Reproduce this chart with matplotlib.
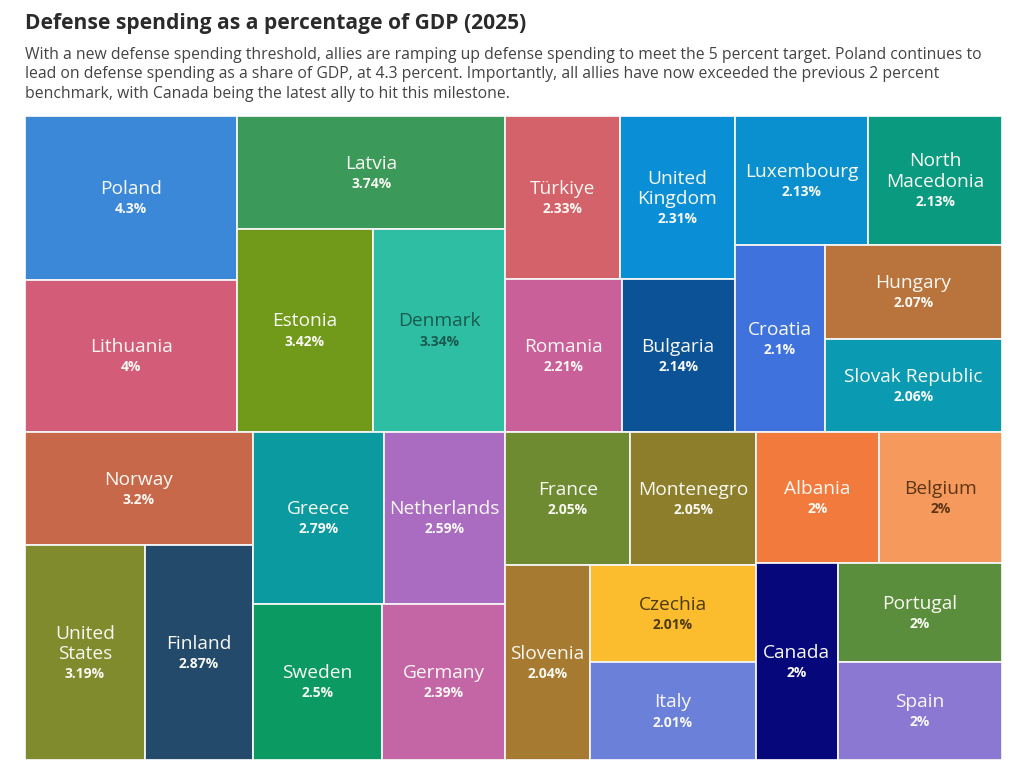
import matplotlib
matplotlib.use("Agg")
import matplotlib.pyplot as plt
from matplotlib.patches import Rectangle

# ---------------- data ----------------
countries = ["Poland", "Lithuania", "Latvia", "Estonia", "Denmark", "Norway",
             "United States", "Finland", "Greece", "Netherlands", "Sweden",
             "Germany", "Türkiye", "United Kingdom", "Romania", "Bulgaria",
             "Luxembourg", "North Macedonia", "Croatia", "Hungary",
             "Slovak Republic", "France", "Montenegro", "Slovenia", "Czechia",
             "Italy", "Albania", "Belgium", "Canada", "Portugal", "Spain"]
values = [4.3, 4.0, 3.74, 3.42, 3.34, 3.2, 3.19, 2.87, 2.79, 2.59, 2.5, 2.39,
          2.33, 2.31, 2.21, 2.14, 2.13, 2.13, 2.1, 2.07, 2.06, 2.05, 2.05,
          2.04, 2.01, 2.01, 2.0, 2.0, 2.0, 2.0, 2.0]
value_labels = ["4.3%", "4%", "3.74%", "3.42%", "3.34%", "3.2%", "3.19%",
                "2.87%", "2.79%", "2.59%", "2.5%", "2.39%", "2.33%", "2.31%",
                "2.21%", "2.14%", "2.13%", "2.13%", "2.1%", "2.07%", "2.06%",
                "2.05%", "2.05%", "2.04%", "2.01%", "2.01%", "2%", "2%", "2%",
                "2%", "2%"]
colors = ["#3b88d8", "#d35c79", "#3b9959", "#729a1a", "#2ebea3", "#c8684b",
          "#7f8b2c", "#234a6b", "#0a9aa0", "#aa6cc0", "#0b9a62", "#c466a6",
          "#d4626b", "#0a8fd6", "#c9609a", "#0b5296", "#0a90cf", "#0a9a80",
          "#3f72dc", "#b8743c", "#0a9ab2", "#6f8b32", "#8c7e2a", "#a67a30",
          "#fbbd2e", "#6b80d8", "#f27a3c", "#f59a5c", "#05077a", "#5b8e3c",
          "#8a78d2"]
dark_text = {"Denmark": "#1b5a50", "Czechia": "#4d3a12", "Belgium": "#5e3516"}

title = "Defense spending as a percentage of GDP (2025)"
subtitle = ["With a new defense spending threshold, allies are ramping up defense spending to meet the 5 percent target. Poland continues to",
            "lead on defense spending as a share of GDP, at 4.3 percent. Importantly, all allies have now exceeded the previous 2 percent",
            "benchmark, with Canada being the latest ally to hit this milestone."]

FONT = "Open Sans"
plt.rcParams["font.family"] = [FONT, "DejaVu Sans"]


# ------------- binary treemap layout (d3.treemapBinary style) -------------
def binary_layout(vals, x0, y0, x1, y1):
    n = len(vals)
    sums = [0.0]
    for v in vals:
        sums.append(sums[-1] + v)
    rects = [None] * n

    def partition(i, j, value, x0, y0, x1, y1):
        if i >= j - 1:
            rects[i] = (x0, y0, x1, y1)
            return
        offset = sums[i]
        target = value / 2 + offset
        k, hi = i + 1, j - 1
        while k < hi:
            mid = (k + hi) // 2
            if sums[mid] < target:
                k = mid + 1
            else:
                hi = mid
        if (target - sums[k - 1]) <= (sums[k] - target) + 1e-9 and i + 1 < k:
            k -= 1
        vl = sums[k] - offset
        vr = value - vl
        if (x1 - x0) > (y1 - y0):
            xk = (x0 * vr + x1 * vl) / value
            partition(i, k, vl, x0, y0, xk, y1)
            partition(k, j, vr, xk, y0, x1, y1)
        else:
            yk = (y0 * vr + y1 * vl) / value
            partition(i, k, vl, x0, y0, x1, yk)
            partition(k, j, vr, x0, yk, x1, y1)

    partition(0, n, sums[-1], x0, y0, x1, y1)
    return rects


# ---------------- figure ----------------
W, H = 1024, 766
fig = plt.figure(figsize=(W / 100, H / 100), dpi=100)
fig.patch.set_facecolor("white")

L, T, R, B = 25, 116, 1002, 760
ax = fig.add_axes([L / W, 1 - B / H, (R - L) / W, (B - T) / H])
AW, AH = R - L, B - T
ax.set_xlim(0, AW)
ax.set_ylim(AH, 0)
ax.axis("off")

rects = binary_layout(values, 0, 0, AW, AH)

renderer = fig.canvas.get_renderer()
NAME_FS = 13.8
VAL_FS = 10.0
L1 = 20.5   # px between name lines
L2 = 21.0   # px from last name line to value line

for name, lab, col, (x0, y0, x1, y1) in zip(countries, value_labels, colors, rects):
    ax.add_patch(Rectangle((x0, y0), x1 - x0, y1 - y0, facecolor=col,
                           edgecolor="#f4f4f4", linewidth=1.3))
    tc = dark_text.get(name, "#f8f8f2")
    cx, cy = (x0 + x1) / 2, (y0 + y1) / 2
    # wrap name if too wide
    t = ax.text(cx, cy, name, fontsize=NAME_FS)
    wpx = t.get_window_extent(renderer).width
    t.remove()
    lines = name.split(" ") if (wpx > (x1 - x0) - 14 and " " in name) else [name]
    n = len(lines)
    top = cy - ((n - 1) * L1 + L2) / 2
    for i, ln in enumerate(lines):
        ax.text(cx, top + i * L1 + 6.8, ln, fontsize=NAME_FS, color=tc,
                ha="center", va="baseline")
    ax.text(cx, top + (n - 1) * L1 + L2 + 5.0, lab, fontsize=VAL_FS,
            color=tc, ha="center", va="baseline", fontweight="bold")

fig.text(25 / W, 1 - 29 / H, title, fontsize=15.1, fontweight="bold",
         color="#2b2b2b", ha="left", va="baseline")
for i, s in enumerate(subtitle):
    fig.text(25 / W, 1 - (59 + i * 19.5) / H, s, fontsize=11.3,
             color="#444444", ha="left", va="baseline")

fig.savefig("out.png", dpi=100, facecolor="white")
